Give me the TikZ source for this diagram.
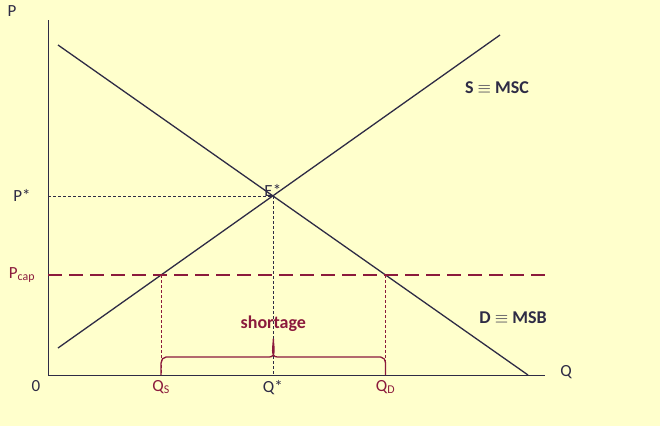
\documentclass[tikz,border=0pt]{standalone}
\usepackage{fontspec}
\setmainfont{Carlito}
\usetikzlibrary{calc}
\definecolor{bgyel}{HTML}{FFFFCC}
\definecolor{curve}{HTML}{2E2B45}
\definecolor{capred}{HTML}{8B1A3C}
\tikzset{curve/.style={draw=curve,line width=1.3pt}}
\tikzset{guide/.style={draw=curve,dash pattern=on 3pt off 2pt,line width=0.5pt}}
\tikzset{capguide/.style={draw=capred,dash pattern=on 3pt off 2pt,line width=0.5pt}}
\tikzset{lbl/.style={font=\fontsize{17}{17}\selectfont,text=curve,inner sep=1pt}}

\begin{document}
\begin{tikzpicture}[x=1pt,y=-1pt]
    \fill[bgyel] (0,0) rectangle (660,426);
    \useasboundingbox (0,0) rectangle (660,426);
    % axes
    \coordinate (o) at (48,375);
    \coordinate (ptop) at (48,20);
    \coordinate (qend) at (545,375);
    \draw[curve,line width=0.6pt] (ptop) -- (o) -- (qend);
    \node[lbl] (p) at (12,11) {P};
    \node[lbl] (q) at (566,372) {Q};
    \node[lbl] (zero) at (36,386) {0};
    % curves
    \coordinate (s0) at (58,348);
    \coordinate (s1) at (500,35);
    \coordinate (d0) at (58,45);
    \coordinate (d1) at (528,375);
    \draw[curve] (s0) -- (s1);
    \draw[curve] (d0) -- (d1);
    \node[lbl,font=\fontsize{18}{18}\selectfont\bfseries] (smsc) at (497,88) {S $\equiv$ MSC};
    \node[lbl,font=\fontsize{18}{18}\selectfont\bfseries] (dmsb) at (513,318) {D $\equiv$ MSB};
    % equilibrium
    \coordinate (e) at (intersection of s0--s1 and d0--d1);
    \node[lbl,anchor=south] (estar) at ([yshift=-2]e) {E*};
    \coordinate (pstar) at (o |- e);
    \coordinate (qstar) at (o -| e);
    \draw[guide] (pstar) -- (e) -- (qstar);
    \node[lbl] (pstarl) at (22,195) {P*};
    \node[lbl,anchor=north] (qstarl) at ([yshift=-4]qstar) {Q*};
    % price cap
    \coordinate (c0) at (48,275);
    \coordinate (c1) at (545,275);
    \coordinate (qs) at (intersection of s0--s1 and c0--c1);
    \coordinate (qd) at (intersection of d0--d1 and c0--c1);
    \draw[capred,line width=1.5pt,dash pattern=on 14pt off 7pt] (c0) -- (c1);
    \node[lbl,text=capred] (pcap) at (22,275) {P\textsubscript{cap}};
    \coordinate (qsb) at (qs |- o);
    \coordinate (qdb) at (qd |- o);
    \draw[capguide] (qs) -- (qsb);
    \draw[capguide] (qd) -- (qdb);
    \node[lbl,text=capred,anchor=north] (qsl) at ([yshift=-4]qsb) {Q\textsubscript{S}};
    \node[lbl,text=capred,anchor=north] (qdl) at ([yshift=-4]qdb) {Q\textsubscript{D}};
    % shortage brace
    \coordinate (bline) at (0,357);
    \coordinate (bmid) at ($(qs)!0.5!(qd)$);
    \coordinate (bm) at (bmid |- bline);
    \coordinate (bd) at (qd |- bline);
    \draw[capred,line width=1.3pt,line join=round]
      (qsb) -- ++(0,-12) to[out=90,in=180] ++(5,-6) -- ([xshift=-4]bm)
      to[out=0,in=-90] ([yshift=18]bm) to[out=-90,in=180] ([xshift=4]bm)
      -- ([xshift=-5]bd) to[out=0,in=90] ([yshift=-6]bd) -- (qdb);
    \node[lbl,text=capred,font=\fontsize{18}{18}\selectfont\bfseries] (short) at ([yshift=33]bm) {shortage};
\end{tikzpicture}
\end{document}
